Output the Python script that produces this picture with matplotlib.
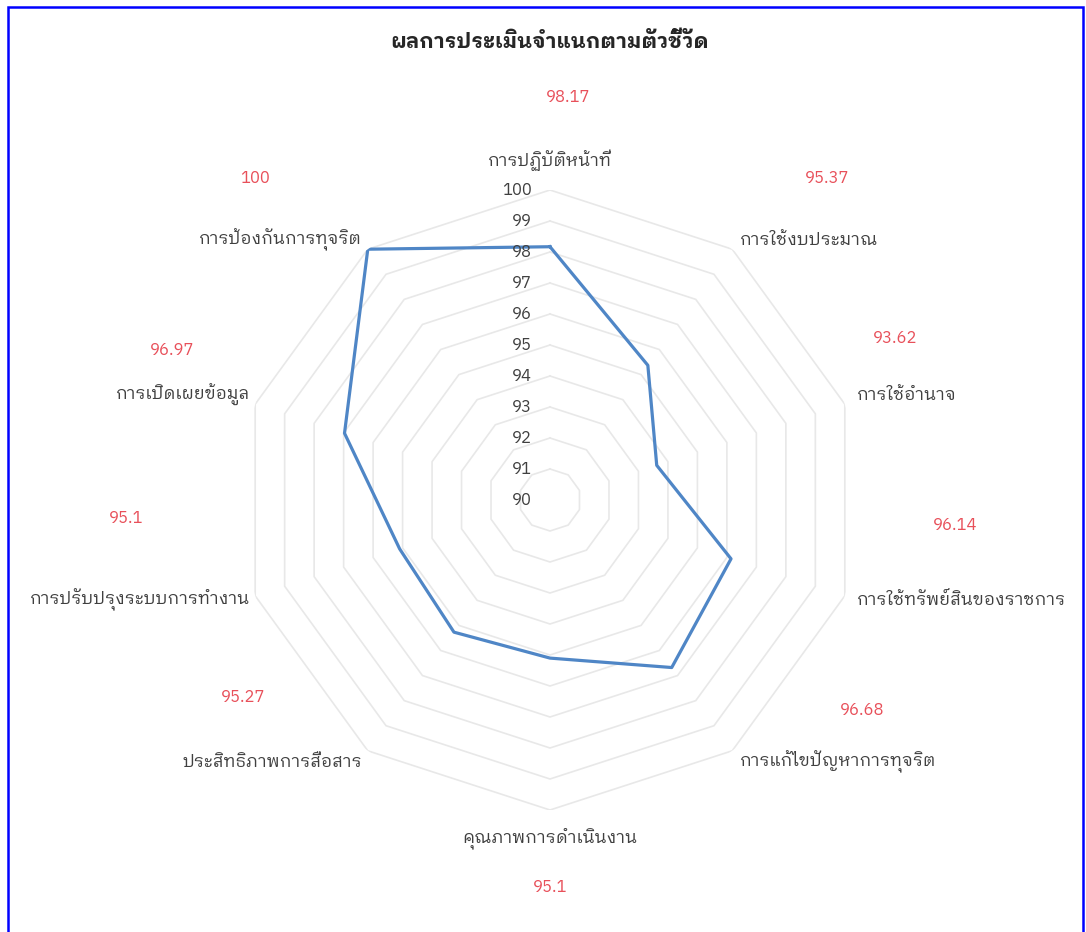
import numpy as np
import matplotlib
matplotlib.use("Agg")
import matplotlib.pyplot as plt
from matplotlib.patches import Rectangle

plt.rcParams['font.family'] = ['IBM Plex Sans Thai Looped', 'Noto Sans Thai', 'DejaVu Sans']

# data (clockwise from top)
categories = ["การปฏิบัติหน้าที่", "การใช้งบประมาณ", "การใช้อำนาจ",
              "การใช้ทรัพย์สินของราชการ", "การแก้ไขปัญหาการทุจริต",
              "คุณภาพการดำเนินงาน", "ประสิทธิภาพการสื่อสาร",
              "การปรับปรุงระบบการทำงาน", "การเปิดเผยข้อมูล", "การป้องกันการทุจริต"]
scores = [98.17, 95.37, 93.62, 96.14, 96.68, 95.1, 95.27, 95.1, 96.97, 100]
value_labels = ["98.17", "95.37", "93.62", "96.14", "96.68", "95.1", "95.27", "95.1", "96.97", "100"]
r_ticks = list(range(90, 101))

# where labels sit relative to the outer ring vertex (pixels, x right / y up)
cat_offsets = [(0, 30), (8, 9), (12, 9), (12, -4), (8, -11),
               (0, -28), (-6, -11), (-5, -4), (-5, 9), (-6, 9)]
val_offsets = [(18, 93), (95, 71), (50, 66), (110, 71), (130, 41),
               (0, -77), (-125, 54), (-129, 78), (-83, 54), (-113, 71)]

W, H = 1086, 932
fig = plt.figure(figsize=(W / 100, H / 100), dpi=100)
cx, cy, R = 550, 500, 310
ax = fig.add_axes([(cx - R) / W, (H - cy - R) / H, 2 * R / W, 2 * R / H], projection='polar')
ax.set_theta_zero_location('N')
ax.set_theta_direction(-1)

n = len(categories)
theta = np.linspace(0, 2 * np.pi, n, endpoint=False)
theta_c = np.append(theta, theta[0])

# decagon grid rings
for t in r_ticks:
    ax.plot(theta_c, [t] * (n + 1), color='#e8e8e8', lw=1.2, zorder=1)

ax.plot(theta_c, scores + scores[:1], color='#4f86c6', lw=2.3, zorder=3)

ax.set_ylim(90, 100)
ax.grid(False)
ax.spines['polar'].set_visible(False)
ax.set_xticks([])
ax.set_yticks([])
ax.patch.set_alpha(0)

px = 72 / 100  # pixels -> points
for t in r_ticks:
    ax.annotate(str(t), (0, t), xytext=(-18 * px, 0), textcoords='offset points',
                ha='right', va='center', fontsize=12, color='#404040')

for i, lab in enumerate(categories):
    dx, dy = cat_offsets[i]
    ha = 'center' if dx == 0 else ('left' if dx > 0 else 'right')
    ax.annotate(lab, (theta[i], 100), xytext=(dx * px, dy * px), textcoords='offset points',
                ha=ha, va='center', fontsize=12.5, color='#404040')
    vx, vy = val_offsets[i]
    ax.annotate(value_labels[i], (theta[i], 100), xytext=(vx * px, vy * px),
                textcoords='offset points', ha='center', va='center',
                fontsize=12, color='#e8505a')

fig.text(550 / W, 1 - 42 / H, "ผลการประเมินจำแนกตามตัวชี้วัด", ha='center', va='center',
         fontsize=15, fontweight='bold', color='#262626')

# blue frame
fig.patches.append(Rectangle((8 / W, -0.02), (1083 - 8) / W, 1.02 - 7 / H,
                             transform=fig.transFigure, fill=False, ec='#0000ff', lw=1.8))

fig.savefig("out.png", dpi=100)
